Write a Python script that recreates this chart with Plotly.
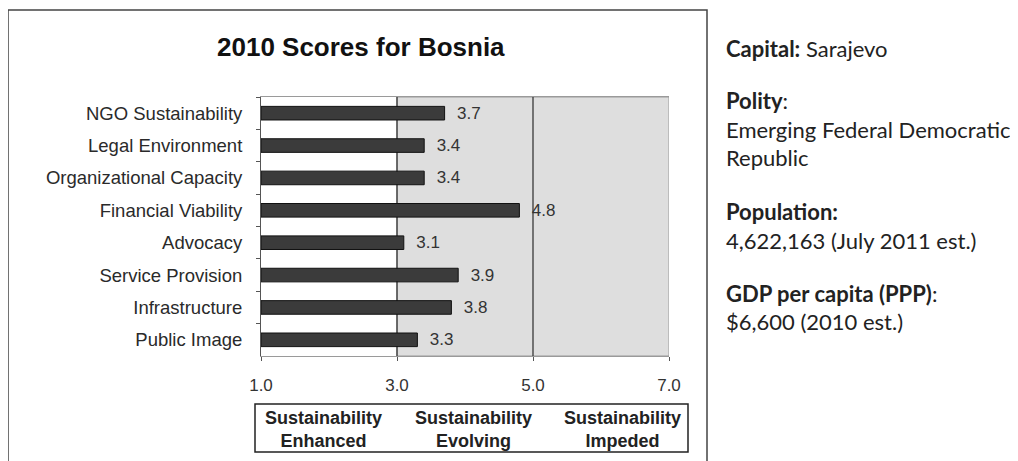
import plotly.graph_objects as go

categories = ["NGO Sustainability", "Legal Environment", "Organizational Capacity",
              "Financial Viability", "Advocacy", "Service Provision",
              "Infrastructure", "Public Image"]
scores = [3.7, 3.4, 3.4, 4.8, 3.1, 3.9, 3.8, 3.3]
x_ticks = [1, 3, 5, 7]
zone_labels = ["Sustainability<br>Enhanced", "Sustainability<br>Evolving", "Sustainability<br>Impeded"]
info_lines = [
    ("<b>Capital:</b> Sarajevo", 49),
    ("<b>Polity</b>:", 101),
    ("Emerging Federal Democratic", 129),
    ("Republic", 157),
    ("<b>Population:</b>", 211),
    ("4,622,163 (July 2011 est.)", 240),
    ("<b>GDP per capita (PPP)</b>:", 293),
    ("$6,600 (2010 est.)", 321),
]

OFF = 8  # browser body margin
W, H = 1018 - OFF, 461 - OFF
# plot area in page pixels
L, R, T, B = 261, 669, 97, 356

def px(x):
    return (x - L) / (R - L)

def py(y):
    return (B - y) / (B - T)

ARIAL = "Liberation Sans, Arial"

fig = go.Figure()
fig.add_trace(go.Bar(
    y=categories, x=[s - 1 for s in scores], base=1, orientation="h",
    marker=dict(color="#3b3b3b", line=dict(color="#111111", width=1)),
    text=[f"\u00a0\u00a0{s:.1f}" for s in scores], textposition="outside",
    textfont=dict(family=ARIAL, size=17, color="#333333"),
    constraintext="none", cliponaxis=False, width=0.42, hoverinfo="skip",
))

shapes = []
shapes.append(dict(type="rect", xref="x", yref="paper", x0=3, x1=7, y0=0, y1=1,
                   fillcolor="#dedede", line=dict(color="#9a9a9a", width=1), layer="below"))
for xv in [3, 5]:
    shapes.append(dict(type="line", xref="x", yref="paper", x0=xv, x1=xv, y0=0, y1=1,
                       line=dict(color="#2a2a2a", width=1.2), layer="below"))
shapes.append(dict(type="rect", xref="paper", yref="paper", x0=px(8), x1=px(707),
                   y0=py(462), y1=py(10), line=dict(color="#444444", width=1.5),
                   fillcolor="rgba(0,0,0,0)", layer="above"))
shapes.append(dict(type="rect", xref="paper", yref="paper", x0=px(255), x1=px(688),
                   y0=py(452), y1=py(404), line=dict(color="#222222", width=1.5),
                   fillcolor="rgba(0,0,0,0)"))

annotations = [dict(text="<b>2010 Scores for Bosnia</b>", xref="paper", yref="paper",
                    x=px(361), y=py(47), showarrow=False, xanchor="center", yanchor="middle",
                    font=dict(family=ARIAL, size=26, color="#111111"))]
for lab, cx in zip(zone_labels, [323, 473, 622]):
    annotations.append(dict(text=f"<b>{lab}</b>", xref="paper", yref="paper",
                            x=px(cx), y=py(429), showarrow=False,
                            xanchor="center", yanchor="middle",
                            font=dict(family=ARIAL, size=18, color="#222222")))
for txt, yy in info_lines:
    annotations.append(dict(text=txt, xref="paper", yref="paper", x=px(724), y=py(yy),
                            xanchor="left", yanchor="middle", showarrow=False,
                            font=dict(family="Lato, Open Sans", size=22, color="#222222")))

fig.update_layout(
    width=W, height=H, margin=dict(l=L - OFF, r=W - (R - OFF), t=T - OFF, b=H - (B - OFF)),
    paper_bgcolor="white", plot_bgcolor="white", showlegend=False,
    shapes=shapes, annotations=annotations, bargap=0.58,
    xaxis=dict(range=[1, 7], tickvals=x_ticks, ticktext=[f"{v:.1f}" for v in x_ticks],
               showgrid=False, zeroline=False, ticks="outside", ticklen=4,
               tickcolor="#555555", showline=True, linecolor="#9a9a9a", mirror=True,
               ticklabelstandoff=10,
               tickfont=dict(family=ARIAL, size=17, color="#333333")),
    yaxis=dict(autorange="reversed", showgrid=False, ticks="outside", ticklen=4,
               tickson="boundaries", tickcolor="#555555", showline=True,
               linecolor="#555555", ticklabelstandoff=14,
               tickfont=dict(family=ARIAL, size=18.5, color="#2a2a2a")),
)
fig.write_html("out.html")
